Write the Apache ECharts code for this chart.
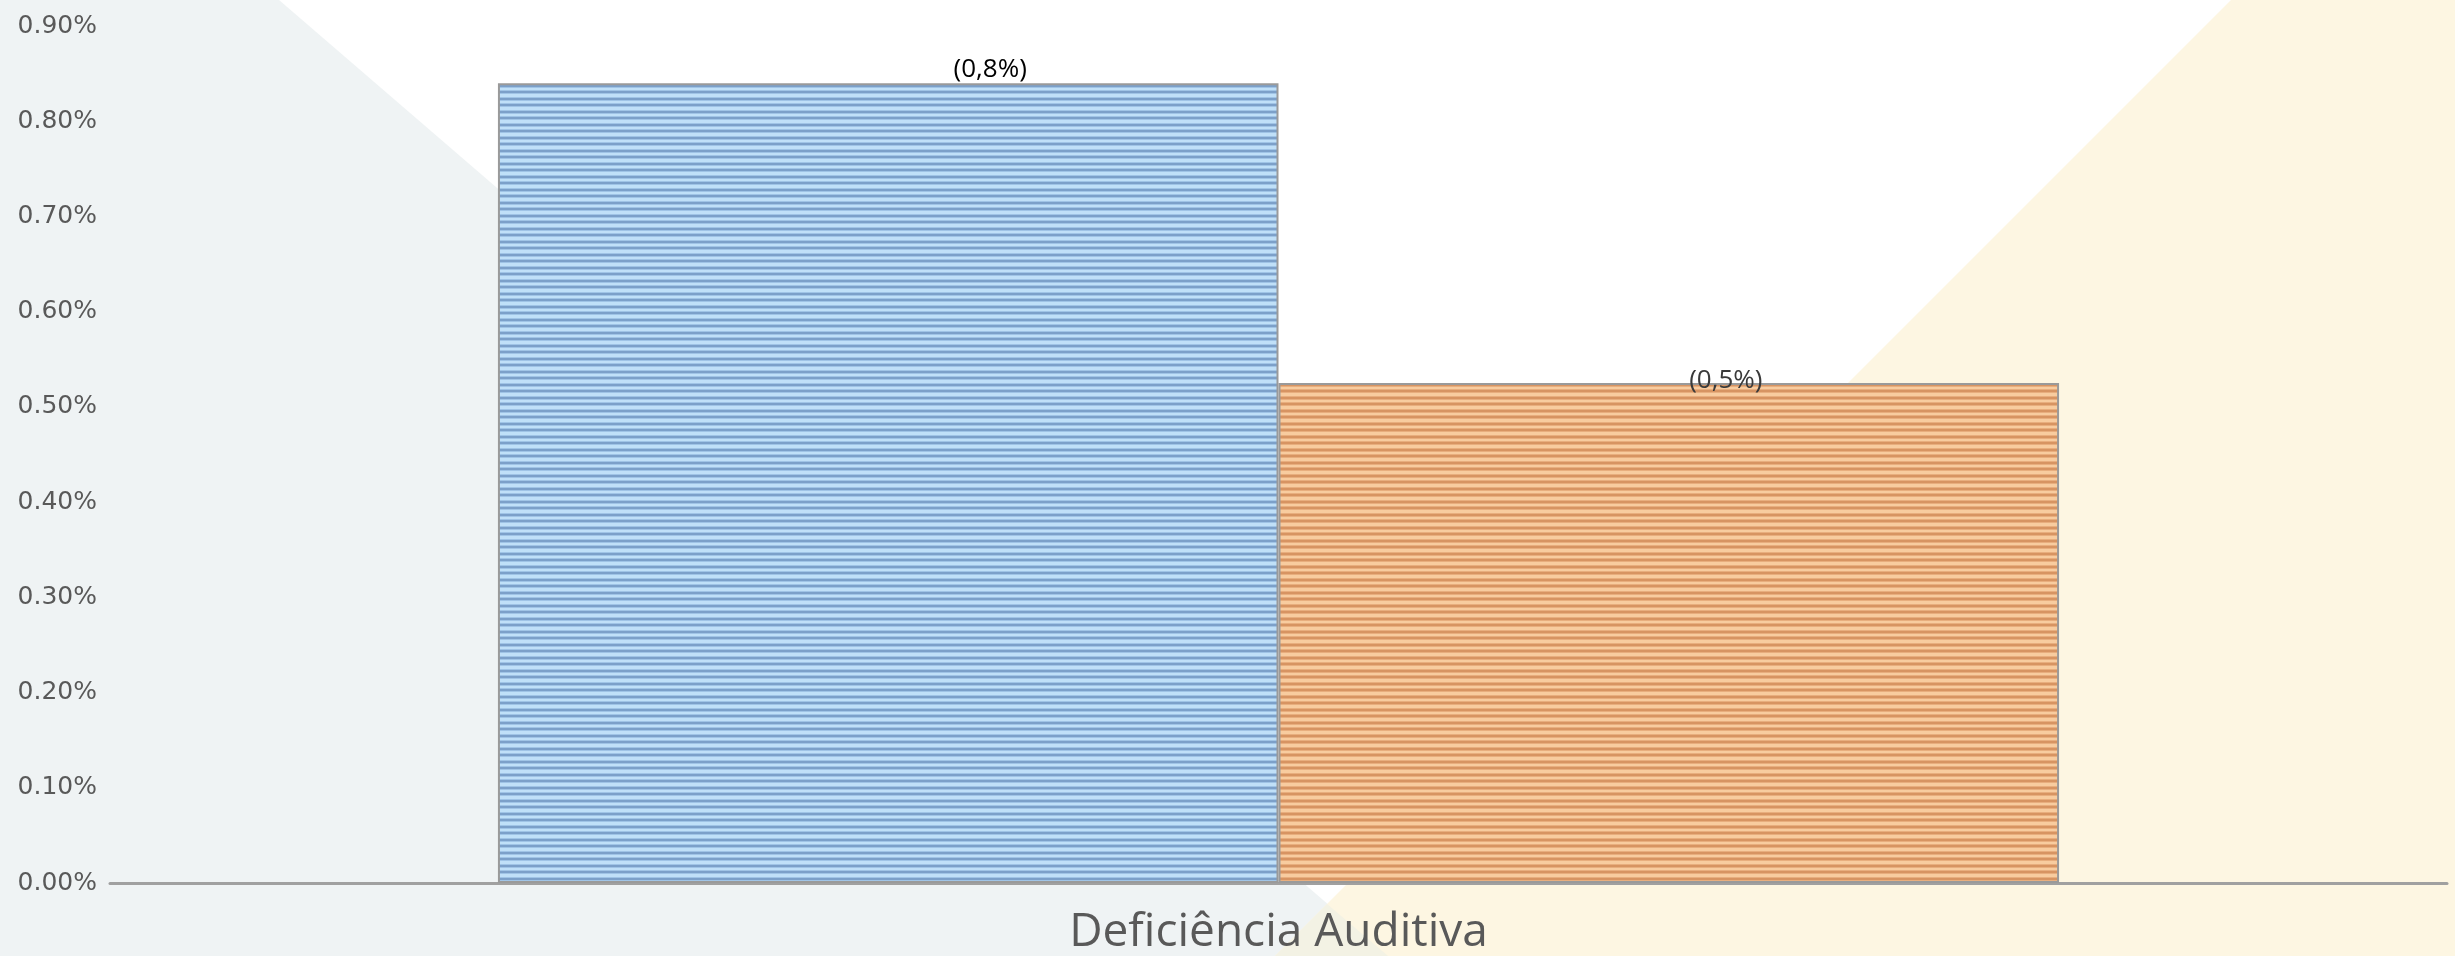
<!DOCTYPE html>
<html>
<head>
<meta charset="utf-8">
<script src="https://cdn.jsdelivr.net/npm/echarts@6/dist/echarts.min.js"></script>
<style>
html,body{margin:0;padding:0;background:#ffffff;}
#chart{width:2455px;height:956px;}
</style>
</head>
<body>
<div id="chart"></div>
<script>
// ---- data ----
var categories = ['Deficiência Auditiva'];
var seriesNames = ['Série A', 'Série B'];
var seriesA = [0.84];
var seriesB = [0.525];
var dataLabels = ['(0,8%)', '(0,5%)'];
var yTickLabels = ['0.00%', '0.10%', '0.20%', '0.30%', '0.40%', '0.50%', '0.60%', '0.70%', '0.80%', '0.90%'];
var yMin = 0, yMax = 0.9, yInterval = 0.1;

function stripes(dark, mid, light) {
  var c = document.createElement('canvas');
  c.width = 8; c.height = 13;
  var g = c.getContext('2d');
  var rows = [dark, dark, mid, light, light, light, mid, dark, dark, mid, light, light, mid];
  for (var i = 0; i < rows.length; i++) { g.fillStyle = rows[i]; g.fillRect(0, i, 8, 1); }
  return { image: c, repeat: 'repeat' };
}

var chart = echarts.init(document.getElementById('chart'), null, { renderer: 'canvas' });
var option = {
  backgroundColor: '#ffffff',
  animation: false,
  graphic: [
    { type: 'polygon', z: -10, silent: true,
      shape: { points: [[0, 0], [279, 0], [1388, 956], [0, 956]] },
      style: { fill: '#eff3f4' } },
    { type: 'polygon', z: -10, silent: true,
      shape: { points: [[2231, 0], [2455, 0], [2455, 956], [1275, 956]] },
      style: { fill: '#fdf6e2' } },
    { type: 'polygon', z: -9, silent: true,
      shape: { points: [[1327, 904], [1388, 956], [1275, 956]] },
      style: { fill: '#f3f2e4' } }
  ],
  grid: { left: 110, right: 8, top: 26, bottom: 70, containLabel: false },
  xAxis: {
    type: 'category',
    data: categories,
    axisLine: { show: true, lineStyle: { color: '#a0a0a0', width: 3 } },
    axisTick: { show: false },
    axisLabel: { color: '#595959', fontSize: 46, fontFamily: 'Open Sans', margin: 27 }
  },
  yAxis: {
    type: 'value',
    min: yMin, max: yMax, interval: yInterval,
    axisLine: { show: false },
    axisTick: { show: false },
    splitLine: { show: false },
    axisLabel: {
      color: '#595959', fontSize: 25, fontFamily: 'DejaVu Sans', margin: 13,
      formatter: function (v) { return yTickLabels[Math.round((v - yMin) / yInterval)]; }
    }
  },
  series: [
    {
      name: seriesNames[0], type: 'bar', data: seriesA,
      barGap: '0%', barCategoryGap: '33.2%',
      itemStyle: { color: stripes('#7ca0c9', '#a0c4e6', '#c0e0f8'), borderColor: '#9a9a9a', borderWidth: 2 },
      label: { show: true, position: 'top', offset: [102, 4], color: '#000000', fontSize: 26, fontFamily: 'Open Sans',
        formatter: function () { return dataLabels[0]; } }
    },
    {
      name: seriesNames[1], type: 'bar', data: seriesB,
      itemStyle: { color: stripes('#d79462', '#e8ae7e', '#f8cc9f'), borderColor: '#9a9a9a', borderWidth: 2 },
      label: { show: true, position: 'top', offset: [57, 16], color: '#3a3a3a', fontSize: 26, fontFamily: 'Open Sans',
        formatter: function () { return dataLabels[1]; } }
    }
  ]
};
chart.setOption(option);
</script>
</body>
</html>
